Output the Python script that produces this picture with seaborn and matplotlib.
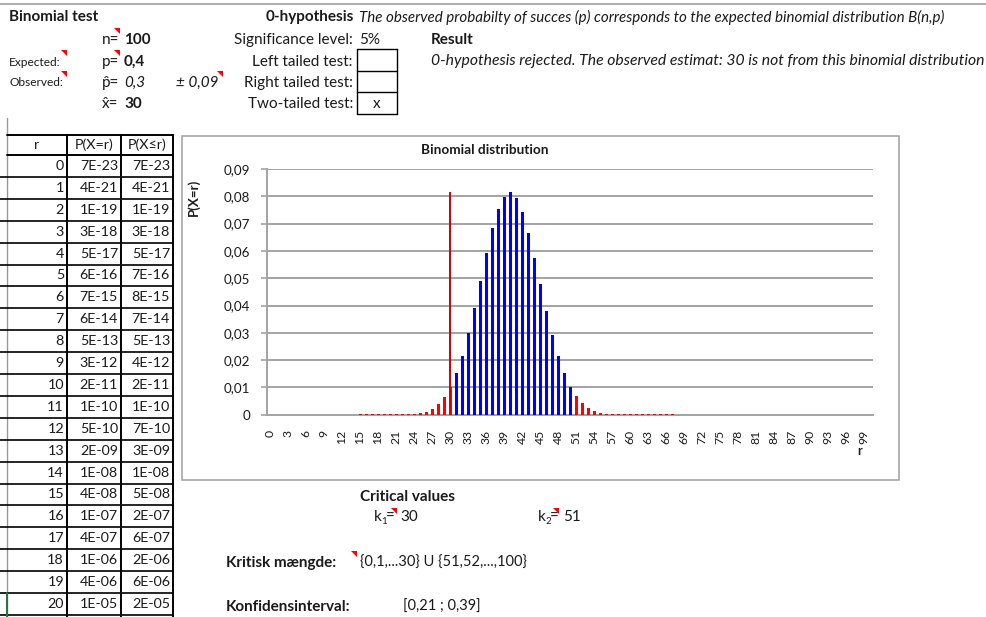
import numpy as np
import pandas as pd
import matplotlib
matplotlib.use("Agg")
import matplotlib.pyplot as plt
from matplotlib.patches import Rectangle, Polygon
import seaborn as sns

# ---- data -------------------------------------------------------------
n_trials = 100
p_expected = "0,4"
p_observed = "0,3"
margin = "± 0,09"
x_observed = 30
k1 = 30
k2 = 51

# P(X=r) for r = 0..100 as plotted
pmf = [
    0, 0, 0, 0, 0, 0, 0, 0, 0, 0,                                  # 0-9
    0, 0, 0, 0, 0, 0.0002, 0.0002, 0.0002, 0.0002, 0.0002,         # 10-19
    0.0002, 0.0002, 0.0002, 0.0002, 0.0004, 0.0007, 0.0011, 0.0020, 0.0039, 0.0064,  # 20-29
    0.0100, 0.0152, 0.0215, 0.0301, 0.0392, 0.0491, 0.0591, 0.0683, 0.0755, 0.0799,  # 30-39
    0.0815, 0.0794, 0.0744, 0.0667, 0.0575, 0.0480, 0.0379, 0.0291, 0.0214, 0.0151,  # 40-49
    0.0103, 0.0067, 0.0043, 0.0025, 0.0015, 0.0008, 0.0004, 0.0002, 0.0002, 0.0002,  # 50-59
    0.0002, 0.0002, 0.0002, 0.0002, 0.0002, 0.0002, 0.0002, 0.0002, 0, 0,            # 60-69
    0, 0, 0, 0, 0, 0, 0, 0, 0, 0,                                  # 70-79
    0, 0, 0, 0, 0, 0, 0, 0, 0, 0,                                  # 80-89
    0, 0, 0, 0, 0, 0, 0, 0, 0, 0,                                  # 90-99
    0,                                                             # 100
]
r_values = list(range(0, 101))
observed_height = 0.0815

y_ticks = [0, 0.01, 0.02, 0.03, 0.04, 0.05, 0.06, 0.07, 0.08, 0.09]
y_ticklabels = ["0", "0,01", "0,02", "0,03", "0,04", "0,05", "0,06", "0,07", "0,08", "0,09"]

table_r = list(range(0, 21))
table_pmf = ["7E-23", "4E-21", "1E-19", "3E-18", "5E-17", "6E-16", "7E-15", "6E-14",
             "5E-13", "3E-12", "2E-11", "1E-10", "5E-10", "2E-09", "1E-08", "4E-08",
             "1E-07", "4E-07", "1E-06", "4E-06", "1E-05"]
table_cdf = ["7E-23", "4E-21", "1E-19", "3E-18", "5E-17", "7E-16", "8E-15", "7E-14",
             "5E-13", "4E-12", "2E-11", "1E-10", "7E-10", "3E-09", "1E-08", "5E-08",
             "2E-07", "6E-07", "2E-06", "6E-06", "2E-05"]

hypothesis = "The observed probabilty of succes (p) corresponds to the expected binomial distribution B(n,p)"
result_text = "0-hypothesis rejected. The observed estimat: 30 is not from this binomial distribution"
critical_set = "{0,1,...30} U {51,52,...,100}"
conf_interval = "[0,21 ; 0,39]"

# ---- figure -----------------------------------------------------------
sns.set_theme(style="white")
plt.rcParams["font.family"] = ["Lato", "DejaVu Sans"]

W, H = 987, 617
fig = plt.figure(figsize=(W / 100, H / 100), dpi=100)
fig.patch.set_facecolor("white")

# sheet layer in pixel coordinates
bg = fig.add_axes([0, 0, 1, 1])
bg.set_xlim(0, W)
bg.set_ylim(H, 0)
bg.axis("off")

FS = 11
TFS = 10.3
TXT = "#1a1a1a"


def put(x, y, s, ha="left", size=FS, weight="normal", style="normal", **kw):
    bg.text(x, y, s, ha=ha, va="center", fontsize=size, fontweight=weight,
            fontstyle=style, color=TXT, **kw)


def flag(x, y):
    bg.add_patch(Polygon([(x, y), (x + 6, y), (x + 6, y + 6)], closed=True,
                         facecolor="#ff0000", edgecolor="none"))


# top rule
bg.plot([0, W], [4, 4], color="#a0a0a0", lw=1.2)

# header block
put(9, 17, "Binomial test", weight="bold")
put(354, 17, "0-hypothesis", ha="right", weight="bold")
put(359, 17, hypothesis, style="italic", size=10.9)

put(102, 40, "n=")
put(124, 40, str(n_trials), weight="bold")
put(353, 40, "Significance level:", ha="right")
put(359, 40, "5%")
put(431, 40, "Result", weight="bold")

put(9, 62, "Expected:", size=8.6)
put(102, 62, "p=")
put(124, 62, p_expected, weight="bold")
put(353, 62, "Left tailed test:", ha="right")
put(431, 61, result_text, style="italic", size=11.3)

put(9, 83, "Observed:", size=8.6)
put(102, 83, "p\u0302=")
put(124, 83, p_observed, style="italic")
put(176, 83, margin, style="italic")
put(353, 83, "Right tailed test:", ha="right")

put(102, 104, "x\u0302=")
put(124, 104, str(x_observed), weight="bold")
put(353, 104, "Two-tailed test:", ha="right")

# test-type boxes
box_rows = [49, 70.7, 92.3, 114]
for yy in box_rows:
    bg.plot([357, 397], [yy, yy], color="black", lw=1)
for xx in (357, 397):
    bg.plot([xx, xx], [49, 114], color="black", lw=1)
put(377, 104, "x", ha="center")

for fx, fy in [(114, 28), (61, 50), (114, 50), (61, 71), (217, 71)]:
    flag(fx, fy)

# probability table
row_h = 21.9
top_hdr, top_rows = 135, 155
cols = [7, 67, 121, 173]
bg.plot([7, 7], [118, H], color="#9a9a9a", lw=1)
bg.plot([cols[0], cols[-1]], [top_hdr, top_hdr], color="black", lw=1.4)
bg.plot([cols[0], cols[-1]], [top_rows, top_rows], color="black", lw=1.4)
for i in range(len(table_r)):
    yb = top_rows + (i + 1) * row_h
    bg.plot([0, cols[-1]], [yb, yb], color="black", lw=1.2)
for xx in cols[1:]:
    bg.plot([xx, xx], [top_hdr, H], color="black", lw=1.4)
bg.plot([7, 7], [top_rows + 20 * row_h, H], color="#217346", lw=1.4)

put(37, 145, "r", ha="center", size=TFS)
put(94, 145, "P(X=r)", ha="center", size=TFS)
put(147, 145, "P(X\u2264r)", ha="center", size=TFS)
for i, (rv, pv, cv) in enumerate(zip(table_r, table_pmf, table_cdf)):
    yc = top_rows + (i + 0.5) * row_h
    put(64, yc, str(rv), ha="right", size=TFS)
    put(118, yc, pv, ha="right", size=TFS)
    put(170, yc, cv, ha="right", size=TFS)

# chart frame
bg.add_patch(Rectangle((182, 136), 717, 344, facecolor="white",
                       edgecolor="#a6a6a6", lw=1.2))
put(485, 150, "Binomial distribution", ha="center", weight="bold", size=9.8)
bg.text(194, 197, "P(X=r)", rotation=90, ha="center", va="center",
        fontsize=9.6, fontweight="bold", color=TXT)
put(860, 451, "r", ha="center", weight="bold", size=9)

# bottom block
put(360, 497, "Critical values", weight="bold")
put(374, 517, "k")
put(381.5, 521, "1", size=7)
put(386, 517, "=")
put(400, 517, str(k1))
put(538, 517, "k")
put(545.5, 521, "2", size=7)
put(550, 517, "=")
put(563, 517, str(k2))
put(226, 563, "Kritisk mængde:", weight="bold")
put(360, 563, critical_set, size=10.5)
put(226, 607, "Konfidensinterval:", weight="bold")
put(403, 607, conf_interval, size=10.5)
for fx, fy in [(391, 508), (553, 508), (351, 551)]:
    flag(fx, fy)

# ---- bar chart ---------------------------------------------------------
ax = fig.add_axes([267 / W, 1 - 414.7 / H, (873 - 267) / W, (414.7 - 169) / H])
ax.set_facecolor("none")

df = pd.DataFrame({"r": r_values, "P": pmf})
df["region"] = np.where((df["r"] <= k1) | (df["r"] >= k2), "critical", "accept")
palette = {"critical": "#ff0000", "accept": "#0000ff"}

sns.barplot(data=df, x="r", y="P", hue="region", palette=palette,
            order=r_values, dodge=False, width=0.5, linewidth=0,
            saturation=1, legend=False, ax=ax, zorder=3)

obs_pos = r_values.index(x_observed)
ax.bar([obs_pos], [observed_height], width=0.35, color="#e00000", linewidth=0, zorder=4)

ax.set_xlim(-0.5, len(r_values) - 0.5)
ax.set_ylim(0, 0.09)
ax.set_yticks(y_ticks)
ax.set_yticklabels(y_ticklabels, fontsize=9.6, color=TXT)
label_pos = [i for i, rv in enumerate(r_values) if rv % 3 == 0 and rv < 100]
ax.set_xticks(label_pos)
ax.set_xticklabels([str(r_values[i]) for i in label_pos], rotation=90,
                   fontsize=8.8, color=TXT)
ax.set_xlabel("")
ax.set_ylabel("")

ax.grid(axis="y", color="#a3a3a3", lw=1.4, zorder=0)
ax.grid(axis="x", visible=False)
for side in ("top", "right"):
    ax.spines[side].set_visible(False)
ax.spines["left"].set_color("#a3a3a3")
ax.spines["bottom"].set_color("#a3a3a3")
ax.spines["left"].set_linewidth(1.4)
ax.spines["bottom"].set_linewidth(1.4)
ax.tick_params(axis="y", left=True, length=4, width=1.2, color="#a3a3a3", pad=8)
ax.tick_params(axis="x", bottom=False, pad=5)

fig.savefig("out.png", dpi=100, facecolor="white")
